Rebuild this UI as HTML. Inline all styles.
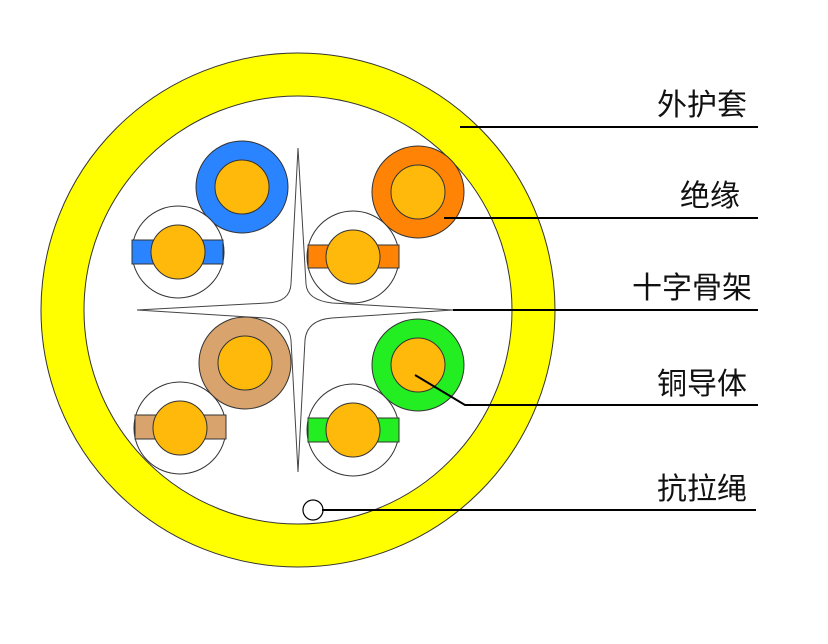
<!DOCTYPE html>
<html><head><meta charset="utf-8"><style>
html,body{margin:0;padding:0;background:#fff;}
svg{display:block}
text{font-family:"Liberation Sans","Noto Sans CJK SC","WenQuanYi Zen Hei",sans-serif;font-size:30px;fill:#111;}
</style></head><body>
<svg width="828" height="644" viewBox="0 0 828 644" xmlns="http://www.w3.org/2000/svg">
<circle cx="298" cy="310" r="257" fill="#ffff00" stroke="#333" stroke-width="1"/>
<circle cx="298" cy="310" r="214" fill="#fff" stroke="#333" stroke-width="1"/>
<g stroke="#333" stroke-width="1">
<circle cx="242" cy="187" r="46" fill="#2a84ff"/>
<circle cx="242" cy="187" r="27" fill="#ffb90a"/>
<circle cx="418" cy="192" r="46" fill="#ff8405"/>
<circle cx="418" cy="192" r="27" fill="#ffb90a"/>
<circle cx="245" cy="363" r="46" fill="#d8a36c"/>
<circle cx="245" cy="363" r="27" fill="#ffb90a"/>
<circle cx="418" cy="365" r="46" fill="#22ee22"/>
<circle cx="418" cy="365" r="27" fill="#ffb90a"/>

<circle cx="178" cy="252" r="46" fill="#fff"/>
<rect x="132" y="240" width="91" height="24" fill="#2a84ff"/>
<circle cx="178" cy="252" r="27" fill="#ffb90a"/>
<circle cx="353" cy="257" r="46" fill="#fff"/>
<rect x="308" y="245" width="91" height="23" fill="#ff8405"/>
<circle cx="353" cy="257" r="27" fill="#ffb90a"/>
<circle cx="180" cy="428" r="46" fill="#fff"/>
<rect x="135" y="415" width="91" height="24" fill="#d8a36c"/>
<circle cx="180" cy="428" r="27" fill="#ffb90a"/>
<circle cx="353" cy="430" r="46" fill="#fff"/>
<rect x="308" y="418" width="91" height="24" fill="#22ee22"/>
<circle cx="353" cy="430" r="27" fill="#ffb90a"/>
</g>
<path d="M298,148 L291,284 Q290,302 267,303 L137,310 L265,318 Q289,320 291,340 L298,472 L305,340 Q307,320 332,318 L453,310 L332,303 Q307,300 306,284 Z" fill="#fff" stroke="#444" stroke-width="1"/>
<circle cx="313" cy="510" r="10" fill="#fff" stroke="#000" stroke-width="1.2"/>
<g stroke="#000" stroke-width="2" fill="none">
<line x1="460" y1="127" x2="758" y2="127"/>
<line x1="444" y1="218" x2="758" y2="218"/>
<line x1="453" y1="310" x2="758" y2="310"/>
<polyline points="415,375 465,405 758,405"/>
<line x1="322" y1="510" x2="756" y2="510"/>
</g>
<text x="657" y="115">外护套</text>
<text x="680" y="206">绝缘</text>
<text x="632" y="298">十字骨架</text>
<text x="657" y="394">铜导体</text>
<text x="657" y="499">抗拉绳</text>
</svg>
</body></html>
